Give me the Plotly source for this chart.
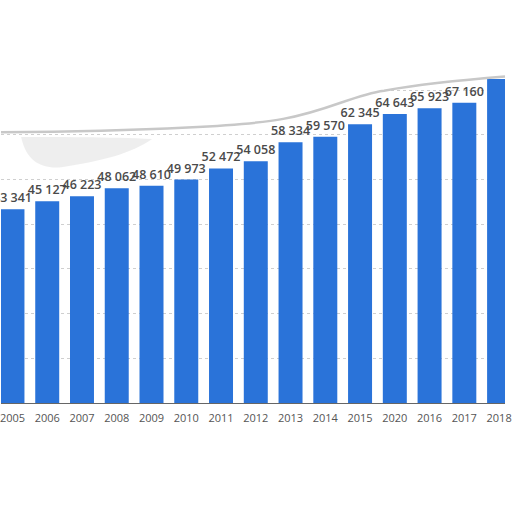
import plotly.graph_objects as go

years = ["2005", "2006", "2007", "2008", "2009", "2010", "2011", "2012",
         "2013", "2014", "2015", "2020", "2016", "2017", "2018"]
values = [43341, 45127, 46223, 48062, 48610, 49973, 52472, 54058,
          58334, 59570, 62345, 64643, 65923, 67160, 72450]
labels = ["43 341", "45 127", "46 223", "48 062", "48 610", "49 973", "52 472", "54 058",
          "58 334", "59 570", "62 345", "64 643", "65 923", "67 160", ""]

fig = go.Figure()
fig.add_trace(go.Bar(
    x=years, y=values, text=labels, textposition="outside",
    marker=dict(color="#2a73d9", line=dict(width=0)),
    textfont=dict(family="Open Sans", size=12.5, color="#4a4a4a", weight=600),
    cliponaxis=False,
))

# torn paper edge at the top of the picture (decoration)
curve = "C 0.3,0.674 0.5,0.69 0.56,0.705 C 0.65,0.725 0.7,0.765 0.76,0.775 C 0.85,0.795 0.95,0.805 1,0.81"
fig.add_shape(type="path", path="M 0,0.672 " + curve + " L 1,1.05 L 0,1.05 Z",
              xref="paper", yref="paper", fillcolor="white", line=dict(width=0), layer="above")
fig.add_shape(type="path", path="M 0,0.672 " + curve,
              xref="paper", yref="paper", line=dict(color="#c8c8c8", width=2.5), layer="above")
# grey smudge under the edge on the left
fig.add_shape(type="path",
              path="M 0.04,0.66 C 0.1,0.66 0.22,0.66 0.3,0.655 C 0.26,0.62 0.2,0.6 0.12,0.585 C 0.08,0.58 0.05,0.6 0.04,0.66 Z",
              xref="paper", yref="paper", fillcolor="rgba(140,140,140,0.15)", line=dict(width=0), layer="below")

fig.update_layout(
    width=512, height=512,
    margin=dict(l=0, r=0, t=0, b=109),
    paper_bgcolor="white", plot_bgcolor="white",
    bargap=0.31,
    showlegend=False,
    uniformtext=dict(minsize=12, mode="show"),
)
fig.update_xaxes(type="category", range=[-0.33, 14.17],
                 showline=True, linecolor="#666", linewidth=1,
                 tickfont=dict(family="Open Sans", size=11, color="#555"),
                 ticks="", showgrid=False, ticklabelstandoff=5)
fig.update_yaxes(range=[0, 90150], showticklabels=False, showline=False,
                 zeroline=False, showgrid=True, gridcolor="#cfcfcf",
                 griddash="dot", dtick=10000)

fig.write_html("out.html", config={"displayModeBar": False},
               post_script="document.body.style.margin='0';")
